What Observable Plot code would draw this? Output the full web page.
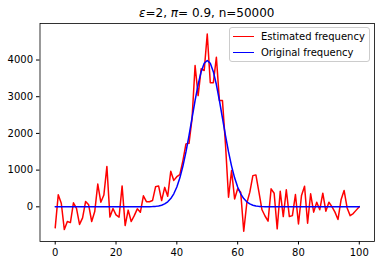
<!DOCTYPE html>
<html>
<head>
<meta charset="utf-8">
<script src="https://cdn.jsdelivr.net/npm/d3@7"></script>
<script src="https://cdn.jsdelivr.net/npm/@observablehq/plot@0.6"></script>
<style>
  html, body { margin: 0; padding: 0; background: white; }
  #wrap { position: relative; width: 384px; height: 265px; font-family: "DejaVu Sans", sans-serif; }
  #title { height: 14px; padding-top: 6px; line-height: 14px; font-size: 12px; margin-left: 39.5px; width: 334.5px; text-align: center; color: #000; }
  #legend { position: absolute; left: 229px; top: 27px; width: 139px; height: 33px; border: 1px solid #cccccc; border-radius: 3px; background: rgba(255,255,255,0.8); font-size: 10px; }
  .row { position: absolute; left: 0; height: 14px; line-height: 14px; }
  .sw { position: absolute; left: 3px; top: 6px; width: 21px; height: 0; border-top: 1.5px solid; }
  .lb { position: absolute; left: 31px; top: 0; white-space: nowrap; }
</style>
</head>
<body>
<div id="wrap">
  <div id="title"><i>ε</i>=2, <i>π</i>= 0.9, n=50000</div>
  <div id="chart"></div>
  <div id="legend"></div>
</div>
<script>
// Estimated frequency (red), index = x from 0 to 100
const estimated = [
  -572, 327, 98, -620, -400, -430, 110, -40, -480, -300,
  145, 55, -400, -130, 620, 125, 320, 1100, -280, -45,
  -220, -280, 570, -510, -90, -400, -240, -55, -150, 300,
  140, 140, 170, 545, 570, 170, 530, 290, 970, 720,
  820, 880, 1260, 1715, 1730, 2400, 3850, 3030, 3760, 3715,
  4710, 3380, 3380, 4075, 2895, 2895, 1700, 260, 990, 215,
  490, 400, -665, 98, 400, 850, 870, 400, -80, -250,
  -390, 490, 370, -600, 425, -265, 465, -265, -240, 335,
  -465, 310, 560, -445, 355, -145, 125, -80, 370, -120,
  125, 5, -145, -345, 190, 445, -30, -240, -185, -90,
  5
];
// Original frequency (blue), index = x from 0 to 100
const original = [
  0, 0, 0, 0, 0, 0, 0, 0, 0, 0,
  0, 0, 0, 0, 0, 0, 0, 0, 0, 0,
  0, 0, 0, 0, 0, 0, 0, 0, 0, 0,
  1, 3, 6, 12, 24, 44, 79, 136, 224, 355,
  540, 790, 1109, 1497, 1942, 2420, 2897, 3332, 3683, 3910,
  3989, 3910, 3683, 3332, 2897, 2420, 1942, 1497, 1109, 790,
  540, 355, 224, 136, 79, 44, 24, 12, 6, 3,
  1, 0, 0, 0, 0, 0, 0, 0, 0, 0,
  0, 0, 0, 0, 0, 0, 0, 0, 0, 0,
  0, 0, 0, 0, 0, 0, 0, 0, 0, 0,
  0
];
const xTicks = [0, 20, 40, 60, 80, 100];
const yTicks = [0, 1000, 2000, 3000, 4000];
const seriesNames = ["Estimated frequency", "Original frequency"];
const seriesColors = ["#ff0000", "#0000ff"];

const chart = Plot.plot({
  width: 384,
  height: 245,
  marginTop: 3,
  marginBottom: 24,
  marginLeft: 39.5,
  marginRight: 10,
  style: { fontFamily: "DejaVu Sans", fontSize: "10px", color: "#000", background: "white" },
  x: { domain: [-5, 105], ticks: xTicks, tickSize: 3.5, tickPadding: 3.5, label: null, tickFormat: d => String(d) },
  y: { domain: [-945, 4995], ticks: yTicks, tickSize: 3.5, tickPadding: 3.5, label: null, tickFormat: d => String(d) },
  marks: [
    Plot.line(estimated, { x: (d, i) => i, y: d => d, stroke: seriesColors[0], strokeWidth: 1.5 }),
    Plot.line(original, { x: (d, i) => i, y: d => d, stroke: seriesColors[1], strokeWidth: 1.5 }),
    Plot.frame({ stroke: "#000", strokeWidth: 0.8 })
  ]
});
document.getElementById("chart").appendChild(chart);

const legend = document.getElementById("legend");
seriesNames.forEach((name, i) => {
  const row = document.createElement("div");
  row.className = "row";
  row.style.top = (2 + i * 16) + "px";
  row.innerHTML = `<span class="sw" style="border-color:${seriesColors[i]}"></span><span class="lb">${name}</span>`;
  legend.appendChild(row);
});
</script>
</body>
</html>
